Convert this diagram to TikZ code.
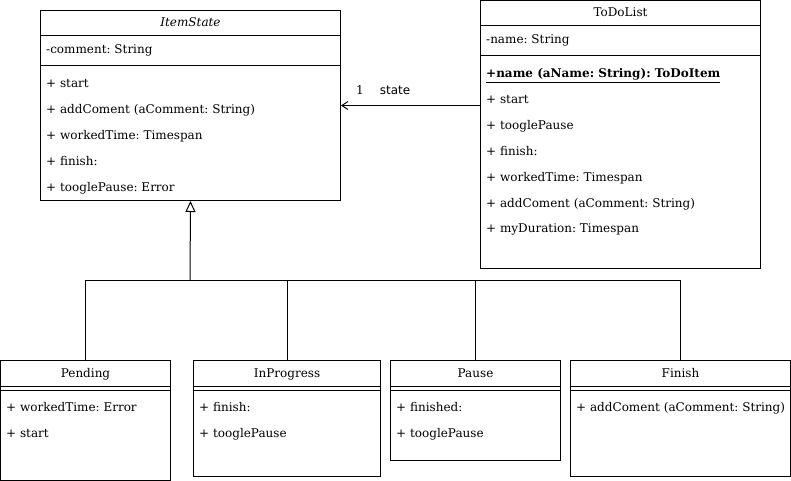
\documentclass[tikz,border=0pt]{standalone}
\usepackage{fontspec}
\setmainfont{DejaVu Serif}
\setsansfont{DejaVu Sans}
\usetikzlibrary{arrows.meta, positioning, calc}
\frenchspacing
\tikzset{
    classbox/.style={draw, rectangle, line width=1pt, anchor=north west, inner sep=0pt},
    classtitle/.style={font=\fontsize{12}{14}\selectfont, inner sep=0pt, text height=9pt, text depth=3pt},
    member/.style={font=\fontsize{12}{14}\selectfont, anchor=west, inner sep=0pt, text height=9pt, text depth=3pt},
    separator/.style={line width=1pt},
    assocarrow/.style={-{Straight Barb[length=6pt, width=8pt]}, line width=1pt},
    inheritarrow/.style={-{Triangle[open, length=11pt, width=10pt, fill=white]}, line width=1pt},
    treeline/.style={line width=1pt},
    assoclabel/.style={font=\fontsize{12}{14}\selectfont, inner sep=0pt, text height=9pt, text depth=3pt},
}
\begin{document}
\begin{tikzpicture}[x=1pt, y=-1pt]
\useasboundingbox (0,0) rectangle (791,481);

\node[classbox, minimum width=300, minimum height=190] (itemstate) at (40,10) {};
\node[classtitle] (itemstate-title) at ([yshift=-14pt]itemstate.north) {\textit{ItemState}};
\draw[separator] ([yshift=-26pt]itemstate.north west) -- ([yshift=-26pt]itemstate.north east);
\draw[separator] ([yshift=-56pt]itemstate.north west) -- ([yshift=-56pt]itemstate.north east);
\node[member] (itemstate-attr) at (46,51) {-comment: String};
\foreach \txt [count=\i from 0] in {+ start, + addComent (aComment: String), + workedTime: Timespan, + finish:, + tooglePause: Error}
    \node[member] (itemstate-op\i) at (46,85+25.8*\i) {\txt};

\node[classbox, minimum width=280, minimum height=268] (todolist) at (480,0) {};
\node[classtitle] (todolist-title) at ([yshift=-14pt]todolist.north) {ToDoList};
\draw[separator] ([yshift=-26pt]todolist.north west) -- ([yshift=-26pt]todolist.north east);
\draw[separator] ([yshift=-56pt]todolist.north west) -- ([yshift=-56pt]todolist.north east);
\node[member] (todolist-attr) at (486,41) {-name: String};
\node[member] (todolist-ctor) at (486,75) {\underline{\textbf{+name (aName: String): ToDoItem}}};
\foreach \txt [count=\i from 1] in {+ start, + tooglePause, + finish:, + workedTime: Timespan, + addComent (aComment: String), + myDuration: Timespan}
    \node[member] (todolist-op\i) at (486,75+25.8*\i) {\txt};

\draw[assocarrow] (todolist.west |- itemstate.east) -- (itemstate.east);
\node[assoclabel] (mult) at (360,92) {1};
\node[assoclabel, font=\fontsize{12}{14}\sffamily] (role) at (395,92) {state};

\node[classbox, minimum width=170, minimum height=120] (pending) at (0,360) {};
\node[classtitle] (pending-title) at ([yshift=-14pt]pending.north) {Pending};
\draw[separator] ([yshift=-26pt]pending.north west) -- ([yshift=-26pt]pending.north east);
\draw[separator] ([yshift=-30pt]pending.north west) -- ([yshift=-30pt]pending.north east);
\node[member] (pending-op1) at (6,408) {+ workedTime: Error};
\node[member] (pending-op2) at (6,434) {+ start};

\node[classbox, minimum width=187, minimum height=116] (inprogress) at (193,360) {};
\node[classtitle] (inprogress-title) at ([yshift=-14pt]inprogress.north) {InProgress};
\draw[separator] ([yshift=-26pt]inprogress.north west) -- ([yshift=-26pt]inprogress.north east);
\draw[separator] ([yshift=-30pt]inprogress.north west) -- ([yshift=-30pt]inprogress.north east);
\node[member] (inprogress-op1) at (199,408) {+ finish:};
\node[member] (inprogress-op2) at (199,434) {+ tooglePause};

\node[classbox, minimum width=170, minimum height=100] (pause) at (390,360) {};
\node[classtitle] (pause-title) at ([yshift=-14pt]pause.north) {Pause};
\draw[separator] ([yshift=-26pt]pause.north west) -- ([yshift=-26pt]pause.north east);
\draw[separator] ([yshift=-30pt]pause.north west) -- ([yshift=-30pt]pause.north east);
\node[member] (pause-op1) at (396,408) {+ finished:};
\node[member] (pause-op2) at (396,434) {+ tooglePause};

\node[classbox, minimum width=220, minimum height=116] (finish) at (570,360) {};
\node[classtitle] (finish-title) at ([yshift=-14pt]finish.north) {Finish};
\draw[separator] ([yshift=-26pt]finish.north west) -- ([yshift=-26pt]finish.north east);
\draw[separator] ([yshift=-30pt]finish.north west) -- ([yshift=-30pt]finish.north east);
\node[member] (finish-op1) at (576,408) {+ addComent (aComment: String)};

\coordinate (branch) at (190,280);
\draw[inheritarrow] (branch) -- (itemstate.south);
\draw[treeline] (pending.north) |- (finish.north |- branch) -- (finish.north);
\draw[treeline] (inprogress.north) -- (inprogress.north |- branch);
\draw[treeline] (pause.north) -- (pause.north |- branch);
\end{tikzpicture}
\end{document}
